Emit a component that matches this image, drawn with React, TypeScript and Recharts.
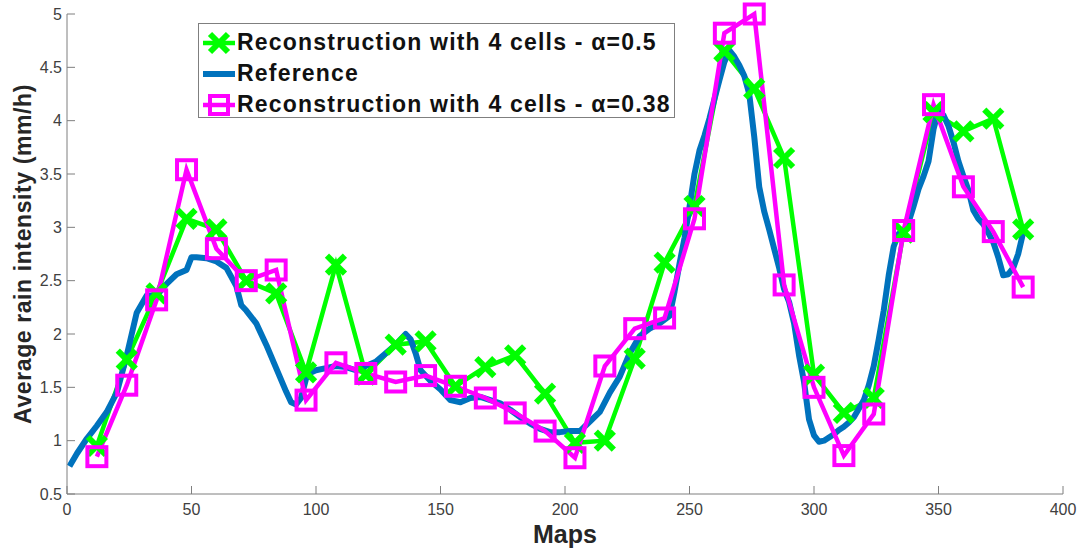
import { Legend, Line, LineChart, XAxis, YAxis } from "recharts";

// maps where the two reconstructions were evaluated
const reconMaps = [12, 24, 36, 48, 60, 72, 84, 96, 108, 120, 132, 144, 156, 168, 180, 192, 204, 216, 228, 240, 252, 264, 276, 288, 300, 312, 324, 336, 348, 360, 372, 384];

// Reconstruction with 4 cells - α=0.5
const recon050 = [0.95, 1.76, 2.38, 3.08, 2.98, 2.5, 2.38, 1.64, 2.65, 1.62, 1.9, 1.93, 1.51, 1.69, 1.8, 1.44, 0.98, 1.0, 1.77, 2.67, 3.2, 4.65, 4.3, 3.65, 1.62, 1.26, 1.4, 2.95, 4.08, 3.9, 4.02, 2.98];

// Reconstruction with 4 cells - α=0.38
const recon038 = [0.85, 1.52, 2.32, 3.54, 2.8, 2.5, 2.6, 1.38, 1.73, 1.63, 1.55, 1.61, 1.51, 1.4, 1.26, 1.09, 0.84, 1.7, 2.05, 2.15, 3.08, 4.82, 5.0, 2.46, 1.5, 0.86, 1.25, 2.97, 4.15, 3.38, 2.96, 2.44];

// Reference curve
const refMaps = [1, 4, 8, 12, 16, 20, 24, 28, 32, 36, 40, 44, 48, 50, 52, 56, 60, 64, 68, 70, 72, 76, 80, 84, 88, 90, 92, 94, 96, 98, 100, 104, 108, 112, 116, 120, 124, 128, 132, 136, 138, 140, 142, 146, 150, 154, 158, 162, 166, 170, 174, 178, 182, 186, 190, 194, 198, 202, 206, 210, 214, 218, 222, 226, 230, 234, 238, 242, 244, 246, 248, 250, 252, 254, 256, 258, 260, 262, 264, 266, 268, 270, 272, 274, 276, 278, 280, 282, 284, 286, 288, 290, 292, 294, 296, 298, 300, 302, 304, 306, 308, 310, 312, 314, 316, 318, 320, 322, 324, 326, 328, 330, 332, 334, 336, 338, 340, 342, 344, 346, 348, 350, 352, 354, 356, 358, 360, 362, 364, 366, 368, 370, 372, 374, 376, 378, 380, 382, 384];
const refValues = [0.76, 0.88, 1.02, 1.14, 1.27, 1.45, 1.8, 2.2, 2.36, 2.36, 2.47, 2.56, 2.6, 2.72, 2.72, 2.71, 2.68, 2.62, 2.45, 2.27, 2.22, 2.1, 1.9, 1.68, 1.46, 1.36, 1.34, 1.4, 1.58, 1.64, 1.66, 1.68, 1.7, 1.69, 1.66, 1.7, 1.74, 1.82, 1.9, 2.0, 1.95, 1.82, 1.66, 1.56, 1.48, 1.38, 1.36, 1.4, 1.41, 1.38, 1.35, 1.29, 1.22, 1.16, 1.11, 1.08, 1.08, 1.09, 1.09, 1.18, 1.27, 1.45, 1.6, 1.82, 1.98, 2.05, 2.1, 2.17, 2.4, 2.66, 2.9, 3.19, 3.5, 3.72, 3.86, 4.02, 4.2, 4.38, 4.55, 4.66, 4.6, 4.52, 4.42, 4.25, 3.85, 3.38, 3.15, 2.98, 2.8, 2.62, 2.42, 2.3, 2.1, 1.8, 1.55, 1.2, 1.05, 0.99, 1.0, 1.03, 1.06, 1.1, 1.13, 1.17, 1.22, 1.3, 1.38, 1.52, 1.7, 1.95, 2.22, 2.55, 2.82, 2.94, 2.96, 3.05, 3.2, 3.36, 3.48, 3.62, 3.92, 4.1, 4.05, 3.95, 3.8, 3.62, 3.48, 3.35, 3.16, 3.08, 3.03, 2.95, 2.86, 2.72, 2.55, 2.56, 2.62, 2.75, 2.95];

const xTicks = [0, 50, 100, 150, 200, 250, 300, 350, 400];
const yTicks = [0.5, 1, 1.5, 2, 2.5, 3, 3.5, 4, 4.5, 5];

const GREEN = "#00ff00";
const BLUE = "#0072bd";
const MAGENTA = "#ff00ff";
const AXIS = "#7f7f7f";
const FONT = "'Liberation Sans', Arial, Helvetica, sans-serif";

const greenData = reconMaps.map((x, i) => ({ x, y: recon050[i] }));
const magentaData = reconMaps.map((x, i) => ({ x, y: recon038[i] }));
const refData = refMaps.map((x, i) => ({ x, y: refValues[i] }));

const CrossDot = ({ cx, cy, size = 9, width = 6 }: any) => {
    if (cx == null || cy == null) return null;
    return (
        <g>
            <line x1={cx - size} y1={cy - size} x2={cx + size} y2={cy + size} stroke={GREEN} strokeWidth={width} />
            <line x1={cx - size} y1={cy + size} x2={cx + size} y2={cy - size} stroke={GREEN} strokeWidth={width} />
        </g>
    );
};

const SquareDot = ({ cx, cy, size = 9.5, width = 4 }: any) => {
    if (cx == null || cy == null) return null;
    return (
        <rect x={cx - size} y={cy - size} width={size * 2} height={size * 2} fill="none" stroke={MAGENTA} strokeWidth={width} />
    );
};

const legendRows = [
    { label: "Reconstruction with 4 cells - α=0.5", color: GREEN, marker: "cross" },
    { label: "Reference", color: BLUE, marker: "none" },
    { label: "Reconstruction with 4 cells - α=0.38", color: MAGENTA, marker: "square" },
];

const LegendBox = () => (
    <div style={{
        width: 477,
        height: 95,
        boxSizing: "border-box",
        border: `1px solid ${AXIS}`,
        background: "white",
        paddingTop: 3,
        paddingLeft: 3,
    }}>
        {legendRows.map((r) => (
            <div key={r.label} style={{ display: "flex", alignItems: "center", height: 31 }}>
                <svg width={34} height={26} style={{ flex: "none" }}>
                    <line x1={1} y1={13} x2={33} y2={13} stroke={r.color} strokeWidth={r.marker === "none" ? 6 : 4.5} />
                    {r.marker === "cross" && <CrossDot cx={17} cy={13} size={9} width={6} />}
                    {r.marker === "square" && <SquareDot cx={17} cy={13} size={9} width={4} />}
                </svg>
                <span style={{
                    marginLeft: 1,
                    fontFamily: FONT,
                    fontWeight: 700,
                    fontSize: 23,
                    letterSpacing: 1.2,
                    color: "#111",
                    whiteSpace: "nowrap",
                }}>{r.label}</span>
            </div>
        ))}
    </div>
);

const YLabel = ({ viewBox }: any) => {
    const cx = viewBox.x + 23;
    const cy = viewBox.y + viewBox.height / 2;
    return (
        <text
            x={cx}
            y={cy}
            transform={`rotate(-90 ${cx} ${cy})`}
            textAnchor="middle"
            dominantBaseline="central"
            fontFamily={FONT}
            fontWeight={700}
            fontSize={23}
            letterSpacing={0.6}
            fill="#262626"
        >
            Average rain intensity (mm/h)
        </text>
    );
};

export default function App() {
    const tickStyle = { fontSize: 16, fill: "#404040", fontFamily: FONT };
    return (
        <div style={{ width: 1078, height: 551, background: "white", position: "relative" }}>
            <style>{`body{margin:0;background:white}`}</style>
            <LineChart width={1078} height={551} margin={{ top: 14, right: 15, bottom: 0, left: 0 }}>
                <XAxis
                    dataKey="x"
                    type="number"
                    domain={[0, 400]}
                    ticks={xTicks}
                    height={57}
                    stroke={AXIS}
                    tickSize={-8}
                    tickMargin={18}
                    tick={tickStyle}
                    label={{ value: "Maps", position: "insideBottom", offset: 8, fontSize: 25, fontWeight: 700, fill: "#262626", fontFamily: FONT }}
                />
                <XAxis
                    xAxisId="top"
                    orientation="top"
                    type="number"
                    domain={[0, 400]}
                    ticks={xTicks}
                    height={0}
                    stroke={AXIS}
                    tickSize={-8}
                    tick={false}
                />
                <YAxis
                    type="number"
                    domain={[0.5, 5]}
                    ticks={yTicks}
                    width={67}
                    stroke={AXIS}
                    tickSize={-8}
                    tickMargin={13}
                    tick={tickStyle}
                    label={{ content: <YLabel /> }}
                />
                <YAxis
                    yAxisId="right"
                    orientation="right"
                    type="number"
                    domain={[0.5, 5]}
                    ticks={yTicks}
                    width={0}
                    stroke={AXIS}
                    tickSize={-8}
                    tick={false}
                />
                <Legend
                    layout="vertical"
                    align="center"
                    verticalAlign="middle"
                    content={<LegendBox />}
                    wrapperStyle={{ left: 198, top: 23, width: 477, height: 95 }}
                />
                <Line
                    data={greenData}
                    dataKey="y"
                    type="linear"
                    stroke={GREEN}
                    strokeWidth={4.5}
                    dot={(p: any) => <CrossDot key={`g-${p.index}`} cx={p.cx} cy={p.cy} />}
                    activeDot={false}
                    isAnimationActive={false}
                    legendType="none"
                />
                <Line
                    data={refData}
                    dataKey="y"
                    type="linear"
                    stroke={BLUE}
                    strokeWidth={6}
                    strokeLinejoin="round"
                    dot={false}
                    activeDot={false}
                    isAnimationActive={false}
                    legendType="none"
                />
                <Line
                    data={magentaData}
                    dataKey="y"
                    type="linear"
                    stroke={MAGENTA}
                    strokeWidth={4.5}
                    dot={(p: any) => <SquareDot key={`m-${p.index}`} cx={p.cx} cy={p.cy} />}
                    activeDot={false}
                    isAnimationActive={false}
                    legendType="none"
                />
            </LineChart>
        </div>
    );
}
